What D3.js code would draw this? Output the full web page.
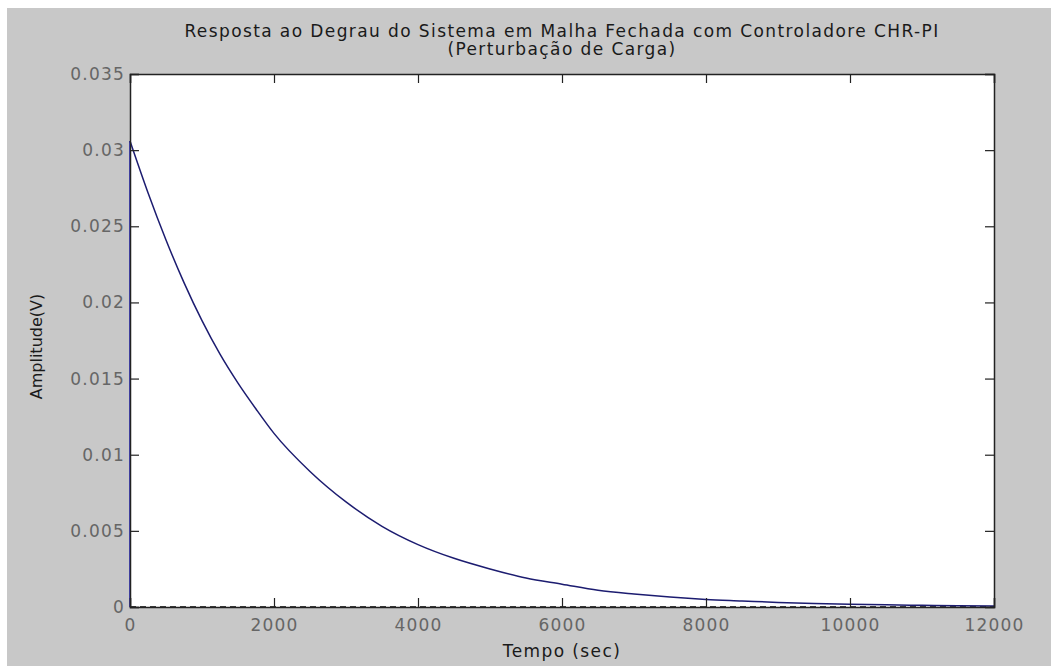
<!DOCTYPE html>
<html>
<head>
<meta charset="utf-8">
<script src="https://cdn.jsdelivr.net/npm/d3@7"></script>
<style>
  body { margin: 0; background: #ffffff; }
  svg { display: block; }
  .tick-label { font-family: "DejaVu Sans", sans-serif; font-size: 17px; letter-spacing: 1.2px; fill: #666666; }
  .label { font-family: "DejaVu Sans", sans-serif; font-size: 17px; letter-spacing: 1.4px; fill: #1a1a1a; }
  .ylabel { font-family: "DejaVu Sans", sans-serif; font-size: 16px; fill: #1a1a1a; }
</style>
</head>
<body>
<div id="chart"></div>
<script>
// step response samples (time in s, amplitude in V)
var tempo = [0, 250, 500, 750, 1000, 1250, 1500, 1750, 2000, 2500, 3000, 3500, 4000, 4500,
             5000, 5500, 6000, 6500, 7000, 7500, 8000, 8500, 9000, 9500, 10000, 10500, 11000, 11500, 12000];
var amplitude = [0.0306, 0.0272, 0.0241, 0.0213, 0.0188, 0.0166, 0.0147, 0.0130, 0.0114, 0.0089, 0.0069,
                 0.0053, 0.0041, 0.0032, 0.0025, 0.0019, 0.0015, 0.0011, 0.00085, 0.00065, 0.0005,
                 0.0004, 0.0003, 0.00023, 0.00018, 0.00014, 0.00011, 0.00008, 0.00006];
var xTicks = [0, 2000, 4000, 6000, 8000, 10000, 12000];
var yTicks = [0, 0.005, 0.01, 0.015, 0.02, 0.025, 0.03, 0.035];
var yTickLabels = ["0", "0.005", "0.01", "0.015", "0.02", "0.025", "0.03", "0.035"];

var width = 1051, height = 666;
var margin = {top: 74, right: 57, bottom: 59, left: 130};
var w = width - margin.left - margin.right;
var h = height - margin.top - margin.bottom;

var svg = d3.select("#chart").append("svg")
    .attr("width", width)
    .attr("height", height);

// grey figure background (thin white strip at top and left as in the picture)
svg.append("rect")
    .attr("x", 7).attr("y", 8)
    .attr("width", width - 7).attr("height", height - 8)
    .attr("fill", "#c8c8c8");

var g = svg.append("g").attr("transform", "translate(" + margin.left + "," + margin.top + ")");

var x = d3.scaleLinear().domain([0, 12000]).range([0, w]);
var y = d3.scaleLinear().domain([0, 0.035]).range([h, 0]);

g.append("rect")
    .attr("width", w).attr("height", h)
    .attr("fill", "#ffffff");

// dashed zero line
g.append("line")
    .attr("x1", 0).attr("x2", w)
    .attr("y1", y(0)).attr("y2", y(0))
    .attr("stroke", "#000")
    .attr("stroke-width", 1.5)
    .attr("stroke-dasharray", "6,4");

// the step itself: vertical jump at t = 0
g.append("line")
    .attr("x1", x(tempo[0])).attr("x2", x(tempo[0]))
    .attr("y1", y(0)).attr("y2", y(amplitude[0]))
    .attr("stroke", "#4a4ac8")
    .attr("stroke-width", 2);

// response curve
var pts = tempo.map(function(t, i) { return [t, amplitude[i]]; });
var line = d3.line()
    .x(function(d) { return x(d[0]); })
    .y(function(d) { return y(d[1]); })
    .curve(d3.curveMonotoneX);

g.append("path")
    .datum(pts)
    .attr("d", line)
    .attr("fill", "none")
    .attr("stroke", "#1c1c70")
    .attr("stroke-width", 1.5);

// axes: ticks inward on all four sides
var tickLen = 9;
var xAxisB = d3.axisBottom(x).tickValues(xTicks).tickSize(-tickLen).tickPadding(12).tickFormat(d3.format("d"));
var xAxisT = d3.axisTop(x).tickValues(xTicks).tickSize(-tickLen).tickFormat("");
var yAxisL = d3.axisLeft(y).tickValues(yTicks).tickSize(-tickLen).tickPadding(5)
    .tickFormat(function(d, i) { return yTickLabels[i]; });
var yAxisR = d3.axisRight(y).tickValues(yTicks).tickSize(-tickLen).tickFormat("");

function style(sel) {
    sel.select(".domain").attr("stroke", "#222").attr("stroke-width", 1.5);
    sel.selectAll(".tick line").attr("stroke", "#222").attr("stroke-width", 1.2);
    sel.selectAll(".tick text").attr("class", "tick-label").attr("font-family", null).attr("font-size", null);
}

g.append("g").attr("transform", "translate(0," + h + ")").call(xAxisB).call(style);
g.append("g").call(xAxisT).call(style);
g.append("g").call(yAxisL).call(style);
g.append("g").attr("transform", "translate(" + w + ",0)").call(yAxisR).call(style);

// titles
svg.append("text").attr("class", "label")
    .attr("x", margin.left + w / 2).attr("y", 37)
    .attr("text-anchor", "middle")
    .text("Resposta ao Degrau do Sistema em Malha Fechada com Controladore CHR-PI");
svg.append("text").attr("class", "label")
    .attr("x", margin.left + w / 2).attr("y", 55)
    .attr("text-anchor", "middle")
    .text("(Perturbação de Carga)");

svg.append("text").attr("class", "label")
    .attr("x", margin.left + w / 2).attr("y", 657)
    .attr("text-anchor", "middle")
    .text("Tempo (sec)");

svg.append("text").attr("class", "ylabel")
    .attr("transform", "translate(42," + (margin.top + h / 2 + 6) + ") rotate(-90)")
    .attr("text-anchor", "middle")
    .text("Amplitude(V)");
</script>
</body>
</html>
